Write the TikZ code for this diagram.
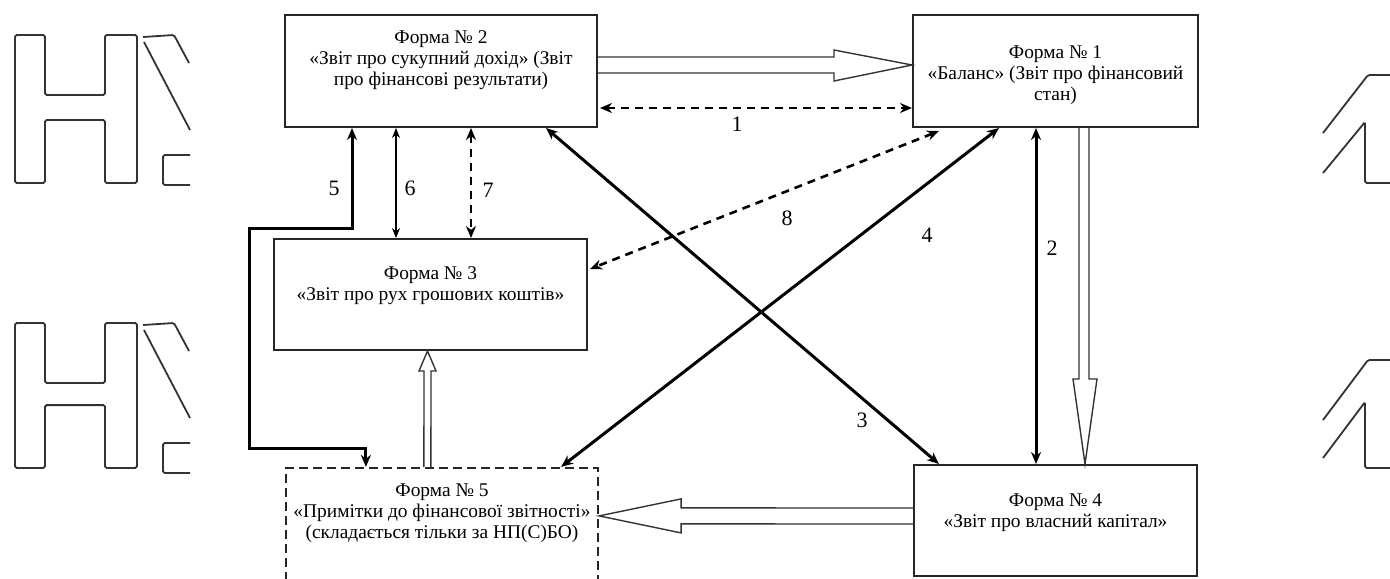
\documentclass[tikz,border=0pt]{standalone}
\usepackage{fontspec}
\setmainfont{Liberation Serif}
\usetikzlibrary{arrows.meta,calc}
\tikzset{
  formbox/.style={draw=black!85, line width=1pt, minimum width=#1, inner sep=0pt},
  formtext/.style={align=center, font=\fontsize{9.7}{10.6}\selectfont, inner sep=0pt},
  lbl/.style={font=\fontsize{11}{12}\selectfont, inner sep=0pt},
  dbl/.style={draw=black!80, line width=0.7pt, line join=miter},
  solidarrow/.style={line width=1.5pt, {Stealth[length=6pt,width=5pt]}-{Stealth[length=6pt,width=5pt]}},
  thinarrow/.style={line width=0.9pt, {Stealth[length=5pt,width=4pt]}-{Stealth[length=5pt,width=4pt]}},
  dasharrow/.style={line width=1.3pt, dash pattern=on 4pt off 3pt, {Stealth[length=6pt,width=5pt]}-{Stealth[length=6pt,width=5pt]}},
  deco/.style={line width=0.9pt, draw=black!80, rounded corners=0.8pt}
}
\begin{document}
\begin{tikzpicture}[x=0.5pt,y=-0.5pt]
\useasboundingbox (0,0) rectangle (1390,578);

% boxes
\node[formbox=156pt, minimum height=56pt] (f2) at (441,71) {};
\node[formbox=142.5pt, minimum height=56pt] (f1) at (1055.5,71) {};
\node[formbox=156.5pt, minimum height=55.5pt] (f3) at (430.5,294.5) {};
\node[formbox=156pt, minimum height=56pt, dash pattern=on 4.5pt off 2.5pt, line width=1.1pt] (f5) at (442,524) {};
\node[formbox=141.5pt, minimum height=55.5pt] (f4) at (1055.5,520.5) {};

% texts
\node[formtext] (t2) at (441,60) {Форма № 2\\«Звіт про сукупний дохід» (Звіт\\про фінансові результати)};
\node[formtext] (t1) at (1055.5,75) {Форма № 1\\«Баланс» (Звіт про фінансовий\\стан)};
\node[formtext] (t3) at (430.5,286) {Форма № 3\\«Звіт про рух грошових коштів»};
\node[formtext] (t5) at (442,513) {Форма № 5\\«Примітки до фінансової звітності»\\(складається тільки за НП(С)БО)};
\node[formtext] (t4) at (1055.5,513) {Форма № 4\\«Звіт про власний капітал»};

% double-line open arrows
\draw[dbl] ($(f2.north east)+(0,43)$) -- ($(f1.north west)+(-78,43)$) -- ($(f1.north west)+(-78,36)$) -- ($(f1.north west)+(0,51)$) -- ($(f1.north west)+(-78,67)$) -- ($(f1.north west)+(-78,59)$) -- ($(f2.north east)+(0,59)$);
\draw[dbl] ($(f1.south west)+(167,0)$) -- ($(f4.north west)+(166,-85)$) -- ($(f4.north west)+(160,-85)$) -- ($(f4.north west)+(172,0)$) -- ($(f4.north west)+(184,-85)$) -- ($(f4.north west)+(176,-85)$) -- ($(f1.south west)+(177,0)$);
\draw[dbl] ($(f5.north west)+(139,0)$) -- ($(f3.south west)+(151,20)$) -- ($(f3.south west)+(146,20)$) -- ($(f3.south west)+(154.5,0)$) -- ($(f3.south west)+(163,20)$) -- ($(f3.south west)+(158,20)$) -- ($(f5.north west)+(146,0)$);
\draw[dbl] ($(f4.north west)+(0,44)$) -- ($(f5.north east)+(82,41)$) -- ($(f5.north east)+(82,32)$) -- ($(f5.north east)+(0,49)$) -- ($(f5.north east)+(82,66)$) -- ($(f5.north east)+(82,57)$) -- ($(f4.north west)+(0,60)$);

% numbered connectors
\draw[dasharrow] ($(f2.north east)+(2,94)$) -- ($(f1.north west)+(0,94)$);
\draw[solidarrow] ($(f1.south west)+(124,0)$) -- ($(f4.north west)+(123,0)$);
\draw[solidarrow] ($(f2.south east)+(-52,0)$) -- ($(f4.north west)+(26,0)$);
\draw[solidarrow] ($(f1.south west)+(87,0)$) -- ($(f5.north east)+(-38,0)$);
\draw[dasharrow] ($(f1.south west)+(27,3)$) -- ($(f3.north east)+(2,31)$);
\draw[solidarrow] ($(f2.south west)+(68,0)$) -- ++(0,100) -- ++(-103,0) -- ++(0,220) -| ($(f5.north west)+(81,0)$);
\draw[thinarrow] ($(f2.south west)+(112,0)$) -- ($(f3.north west)+(123,0)$);
\draw[dasharrow] ($(f2.south west)+(187,0)$) -- ($(f3.north west)+(198,0)$);

% labels
\node[lbl] (l1) at (737,124) {1};
\node[lbl] (l2) at (1052,248) {2};
\node[lbl] (l3) at (862,420) {3};
\node[lbl] (l4) at (927,235) {4};
\node[lbl] (l5) at (334,188) {5};
\node[lbl] (l6) at (410,188) {6};
\node[lbl] (l7) at (488,190) {7};
\node[lbl] (l8) at (787,218) {8};

% edge decorations (outline letter fragments)
\foreach \dy/\h in {0/148, 288/145} {
  \draw[deco] (15,35+\dy) -- (15,35+\dy+\h) -- (45,35+\dy+\h) -- (45,120+\dy*0.99) -- (105,120+\dy*0.99) -- (105,35+\dy+\h) -- (137,35+\dy+\h) -- (137,35+\dy) -- (105,35+\dy) -- (105,95+\dy) -- (45,95+\dy) -- (45,35+\dy) -- cycle;
  \draw[deco] (144,42+\dy) -- (190,130+\dy);
  \draw[deco] (143,37+\dy) -- (174,35+\dy) -- (189,63+\dy);
  \draw[deco] (190,155+\dy) -- (163,155+\dy) -- (163,185+\dy) -- (190,185+\dy);
}
\draw[deco] (1323,133) -- (1368,75) -- (1390,75);
\draw[deco] (1323,173) -- (1365,122) -- (1365,183) -- (1390,183);
\draw[deco] (1323,420) -- (1368,360) -- (1390,360);
\draw[deco] (1323,458) -- (1365,402) -- (1365,468) -- (1390,468);
\end{tikzpicture}
\end{document}
